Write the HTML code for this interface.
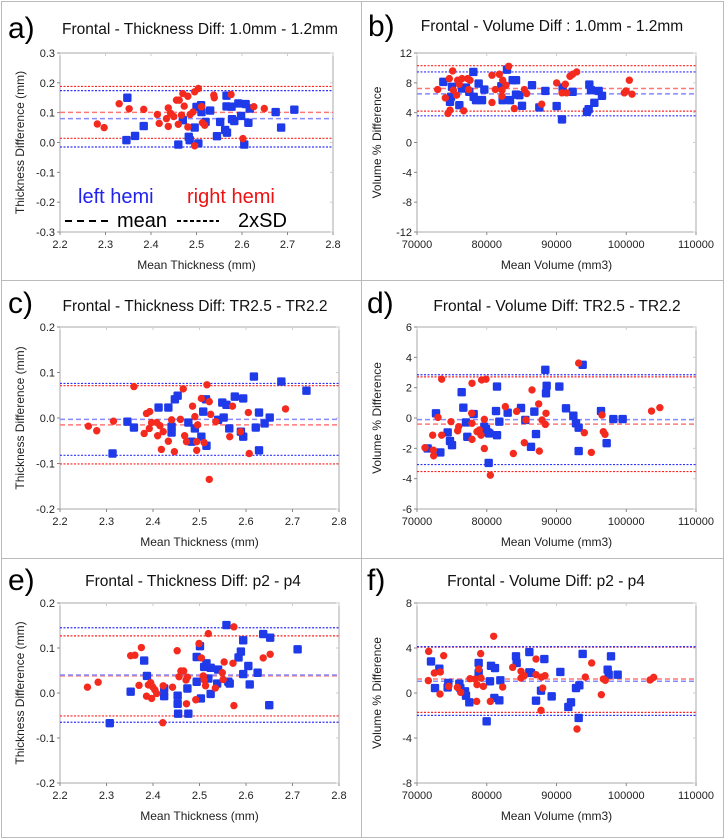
<!DOCTYPE html>
<html><head><meta charset="utf-8"><style>
body{margin:0;background:#fff;}
svg{display:block;font-family:"Liberation Sans",Arial,sans-serif;}
</style></head><body>
<svg id="fig" width="726" height="840" viewBox="0 0 726 840">
<rect x="1.5" y="1.5" width="722" height="836" fill="none" stroke="#bbb"/>
<line x1="361.5" y1="1" x2="361.5" y2="838" stroke="#bbb"/>
<line x1="1" y1="280.5" x2="724" y2="280.5" stroke="#bbb"/>
<line x1="1" y1="558.5" x2="724" y2="558.5" stroke="#bbb"/>
</svg>
<script>
// ---- Panel a ----
const aBlueX=[2.348,2.346,2.365,2.384,2.46,2.47,2.485,2.483,2.496,2.504,2.5,2.51,2.511,2.52,2.53,2.545,2.552,2.563,2.567,2.566,2.566,2.577,2.578,2.583,2.592,2.598,2.608,2.605,2.614,2.617,2.674,2.686,2.715];
const aBlueY=[0.150,0.008,0.022,0.055,-0.007,0.075,0.008,0.019,0.050,-0.003,0.119,0.125,0.102,0.069,0.107,0.021,0.069,0.042,0.033,0.157,0.121,0.12,0.078,0.072,0.131,0.089,0.129,-0.007,0.066,0.114,0.102,0.05,0.11];
const aRedX=[2.282,2.297,2.33,2.352,2.384,2.414,2.418,2.434,2.438,2.438,2.443,2.45,2.456,2.462,2.467,2.47,2.473,2.46,2.481,2.481,2.486,2.492,2.496,2.504,2.496,2.511,2.513,2.518,2.538,2.539,2.576,2.602,2.626,2.649];
const aRedY=[0.062,0.05,0.13,0.113,0.111,0.094,0.064,0.08,0.116,0.054,0.098,0.087,0.142,0.142,0.092,0.164,0.122,0.061,0.155,0.052,0.094,0.102,0.17,0.181,-0.011,0.12,0.066,0.058,0.159,0.15,0.161,0.013,0.12,0.114];
const aBlueLines=[0.174,0.080,-0.015];
const aRedLines=[0.188,0.101,0.014];
// ---- Panel b ----
const bBlueX=[73775,75018,74874,74731,76069,76452,77025,77503,78124,78076,78459,78841,79319,79654,82091,82283,82904,83334,83716,84194,84194,84672,85054,86488,87539,88399,90024,90884,90788,92317,94373,94611,94707,94946,95424,96045,96523];
const bBlueY=[8.13,7.46,6.12,5.45,5.0,7.24,7.37,6.79,6.12,9.46,5.68,7.9,5.68,7.1,7.55,5.68,9.77,5.68,8.35,8.35,6.43,6.35,4.92,7.68,4.7,6.92,4.88,7.37,3.1,6.79,4.12,4.47,7.77,7.01,5.32,6.92,6.26];
const bRedX=[72963,74062,74444,74731,74635,75113,75209,75687,75830,76069,76452,76691,77264,77599,77408,80753,80753,81231,81805,82187,82283,82187,82761,83143,83956,85389,85724,87874,90024,90788,91266,91457,91935,92317,92891,99725,100442,100825,99964];
const bRedY=[7.1,5.99,3.9,4.34,8.57,9.6,7.01,6.35,8.35,7.81,8.57,4.25,8.57,8.35,7.1,9.02,5.37,7.1,9.15,7.01,8.35,6.21,7.68,10.22,4.56,7.1,6.57,5.14,7.99,6.66,7.81,6.66,8.88,9.15,9.46,6.66,8.35,6.48,6.92];
const bBlueLines=[9.46,6.52,3.58];
const bRedLines=[10.3,7.24,4.21];
// ---- Panel c ----
const cBlueX=[2.313,2.345,2.359,2.412,2.433,2.447,2.44,2.44,2.453,2.476,2.483,2.49,2.504,2.508,2.514,2.515,2.54,2.549,2.552,2.558,2.564,2.576,2.594,2.589,2.594,2.617,2.621,2.628,2.628,2.64,2.651,2.676,2.73];
const cBlueY=[-0.078,-0.008,-0.021,0.023,0.023,0.041,-0.019,-0.032,0.049,-0.01,-0.052,-0.023,-0.041,0.014,0.041,-0.061,-0.004,0.034,0.001,0.029,-0.023,0.047,0.043,-0.03,-0.041,0.091,-0.021,0.012,-0.071,-0.012,0.001,0.08,0.06];
const cRedX=[2.261,2.279,2.315,2.359,2.381,2.386,2.393,2.392,2.397,2.408,2.41,2.415,2.418,2.422,2.433,2.44,2.446,2.459,2.465,2.468,2.472,2.485,2.49,2.494,2.494,2.496,2.504,2.51,2.516,2.521,2.521,2.524,2.535,2.565,2.571,2.588,2.605,2.607,2.685];
const cRedY=[-0.018,-0.028,-0.007,0.069,-0.034,0.01,0.014,-0.023,-0.01,-0.01,-0.039,-0.017,-0.069,-0.03,-0.051,-0.004,-0.074,-0.003,0.064,-0.039,-0.052,0.026,0.003,-0.052,-0.071,-0.015,0.043,-0.054,0.073,0.036,-0.135,0.008,-0.008,-0.041,0.026,-0.03,0.012,-0.078,0.02];
const cBlueLines=[0.076,-0.003,-0.082];
const cRedLines=[0.071,-0.015,-0.101];
// ---- Panel d ----
const dBlueX=[71529,72724,73345,74397,74731,75018,76404,76643,77025,77216,78124,79654,79893,80132,80275,80371,81470,81327,81470,81805,83000,84912,85533,86346,86823,87062,88399,88495,88590,90406,91362,92413,92796,93178,93178,93751,96380,97192,98148,99486];
const dBlueY=[-2.01,0.31,-2.27,-0.95,-1.52,-1.79,1.7,0.68,-0.29,-1.24,0.26,-0.57,-0.73,-0.95,-2.96,-1.02,2.07,0.46,-1.13,-0.24,0.35,0.66,-0.13,-1.9,0.42,-1.06,3.18,1.63,2.12,2.07,0.64,0.15,-0.35,-0.64,-2.18,3.51,0.46,-1.66,-0.07,-0.07];
const dRedX=[71147,72246,72342,72390,73011,73536,73536,74874,75973,75830,77886,77838,77886,77886,78602,78937,79176,79271,79893,79654,79654,80514,82665,83812,84290,85389,85628,86488,87444,87539,87921,88399,88495,93178,93990,94994,96523,96714,96953,103623,104818];
const dRedY=[-1.96,-1.13,-2.12,-2.49,0.04,2.56,-1.13,-0.24,-0.57,-0.84,2.29,0.31,-0.35,-1.41,-0.9,-0.79,-1.13,2.51,2.56,-0.09,-2.01,-3.77,0.75,-2.34,0.44,-1.63,-0.13,1.85,0.93,-2.18,-0.13,-0.42,0.31,3.62,-0.97,-2.27,0.2,-0.9,-1.08,0.46,0.68];
const dBlueLines=[2.85,-0.11,-3.07];
const dRedLines=[2.71,-0.4,-3.53];
// ---- Panel e ----
const eBlueX=[2.307,2.352,2.381,2.387,2.424,2.424,2.453,2.453,2.454,2.474,2.476,2.494,2.494,2.501,2.503,2.51,2.515,2.519,2.524,2.524,2.538,2.54,2.558,2.562,2.565,2.584,2.589,2.594,2.594,2.605,2.608,2.625,2.637,2.652,2.65,2.711];
const eBlueY=[-0.067,0.003,0.072,0.038,0.01,-0.007,-0.006,-0.024,-0.046,0.01,-0.046,0.025,0.08,0.104,-0.012,0.058,0.066,0.032,0.056,-0.002,0.021,0.052,0.151,0.025,0.021,0.079,0.092,0.117,0.042,0.06,0.019,0.045,0.131,0.123,-0.027,0.097];
const eRedX=[2.259,2.282,2.352,2.361,2.37,2.375,2.386,2.39,2.395,2.397,2.399,2.404,2.408,2.421,2.422,2.442,2.452,2.456,2.46,2.466,2.471,2.472,2.474,2.492,2.499,2.504,2.508,2.51,2.513,2.519,2.534,2.551,2.553,2.549,2.572,2.574,2.574,2.637,2.652];
const eRedY=[0.013,0.024,0.083,0.084,0.017,0.101,-0.007,0.018,0.023,-0.012,0.014,0.007,-0.001,-0.066,0.016,0.013,0.094,0.036,0.049,0.049,0.029,-0.024,0.035,-0.015,0.11,0.078,0.038,0.029,0.016,0.132,0.011,0.03,0.069,0.045,0.066,-0.028,0.147,0.078,0.086];
const eBlueLines=[0.145,0.040,-0.065];
const eRedLines=[0.127,0.038,-0.051];
// ---- Panel f ----
const fBlueX=[72007,72581,73202,74397,74492,76069,76213,76882,77025,77503,78841,78841,80466,79988,80610,81183,81088,81805,81948,84194,84289,86106,86106,86345,87062,87779,88256,89308,90550,91697,92079,92796,93274,93178,93751,97336,97479,97814,98770];
const fBlueY=[2.81,0.44,2.16,0.5,0.89,0.83,0.44,0.15,-0.24,-0.83,2.67,1.78,1.04,-2.52,2.42,2.22,-0.44,-0.65,1.13,3.26,2.67,3.64,1.84,1.78,-0.68,0.21,3.02,-0.3,1.87,-1.24,-0.83,0.44,0.68,-2.22,3.47,2.07,1.63,3.26,1.63];
const fRedX=[71673,71625,72485,73345,73297,73823,74540,75783,76261,77599,78315,78554,78602,78841,79128,79176,79510,80514,80992,82283,83716,84911,84911,85389,87062,87062,87779,87875,88018,88350,92939,94133,95041,96428,96714,97001,103405,103931];
const fRedY=[3.7,1.1,1.78,1.87,-0.09,3.32,0.59,0.5,0.06,1.27,1.24,-0.74,0.74,2.13,3.5,1.33,0.59,-0.74,5.04,0.53,2.28,1.93,1.33,1.54,3.02,1.63,-1.54,1.42,0.44,1.54,-3.2,1.42,2.67,-0.15,1.24,1.13,1.16,1.39];
const fBlueLines=[4.12,1.04,-1.99];
const fRedLines=[4.08,1.24,-1.72];

const thickTicksX=["2.2","2.3","2.4","2.5","2.6","2.7","2.8"];
const volTicksX=["70000","80000","90000","100000","110000"];
const aTicksY=["0.3","0.2","0.1","0.0","-0.1","-0.2","-0.3"];
const bTicksY=["12","8","4","0","-4","-8","-12"];
const cTicksY=["0.2","0.1","0.0","-0.1","-0.2"];
const dTicksY=["6","4","2","0","-2","-4","-6"];
const fTicksY=["8","4","0","-4","-8"];

const NS="http://www.w3.org/2000/svg";
const svg=document.getElementById('fig');
function mk(tag,attrs,parent){const e=document.createElementNS(NS,tag);for(const k in attrs)e.setAttribute(k,attrs[k]);(parent||svg).appendChild(e);return e;}

function panel(p){
  const g=mk('g',{});
  
  
  const xmin=+p.xt[0],xmax=+p.xt[p.xt.length-1],ymax=+p.yt[0],ymin=+p.yt[p.yt.length-1];
  const sx=v=>p.x0+(v-xmin)/(xmax-xmin)*(p.x1-p.x0);
  const sy=v=>p.y0+(ymax-v)/(ymax-ymin)*(p.y1-p.y0);
  const L=mk('text',{x:p.lx,y:p.ly,'font-size':30,fill:'#000'},g);L.textContent=p.id+')';
  
  
  const T=mk('text',{x:p.tx,y:p.ty,'font-size':15.5,'text-anchor':'middle',fill:'#111'},g);T.textContent=p.title;
  
  
  const F=mk('rect',{x:p.x0,y:p.y0,width:p.x1-p.x0,height:p.y1-p.y0,fill:'none',stroke:'#aaa','stroke-width':1},g);
  
  
  p.xt.forEach(t=>{const x=sx(+t);
    mk('line',{x1:x,y1:p.y1,x2:x,y2:p.y1+3,stroke:'#888'},g);
    mk('line',{x1:x,y1:p.y0,x2:x,y2:p.y0+3,stroke:'#ccc'},g);
    const tl=mk('text',{x:x,y:p.y1+16,'font-size':11,'text-anchor':'middle',fill:'#222'},g);tl.textContent=t;
    
    
  });
  p.yt.forEach(t=>{const y=sy(+t);
    mk('line',{x1:p.x0-3,y1:y,x2:p.x0,y2:y,stroke:'#888'},g);
    mk('line',{x1:p.x1-3,y1:y,x2:p.x1,y2:y,stroke:'#ccc'},g);
    const tl=mk('text',{x:p.x0-5,y:y+4,'font-size':11,'text-anchor':'end',fill:'#222'},g);tl.textContent=t;
    
    
  });
  const xa=mk('text',{x:(p.x0+p.x1)/2,y:p.y1+37,'font-size':12,'text-anchor':'middle',fill:'#222'},g);xa.textContent=p.xl;
  
  
  const yc=(p.y0+p.y1)/2, yx=p.x0-36;
  const ya=mk('text',{x:yx,y:yc,'font-size':12,'text-anchor':'middle',fill:'#222',transform:`rotate(-90 ${yx} ${yc})`},g);ya.textContent=p.yl;
  
  
  const lines=(vals,col,light)=>vals.forEach((v,i)=>{
    const ln=mk('line',{x1:p.x0,x2:p.x1,y1:sy(v),y2:sy(v),stroke:i==1?light:col,'stroke-width':i==1?1.5:1.2,'stroke-dasharray':i==1?'5 3':'2 1.5'},g);
    
    
  });
  lines(p.rl,'#f22','#f77');
  lines(p.bl,'#33f','#88f');
  p.bx.forEach((v,i)=>{const r=mk('rect',{x:sx(v)-4.2,y:sy(p.by[i])-4.2,width:8.4,height:8.4,fill:'#1f3ae8',rx:1.2},g);
    
    });
  p.rx.forEach((v,i)=>{const c=mk('circle',{cx:sx(v),cy:sy(p.ry[i]),r:3.7,fill:'#f52a1f'},g);
    
    });
}
const TX="Mean Thickness (mm)",TY="Thickness Difference (mm)",VX="Mean Volume (mm3)",VY="Volume % Difference";
panel({id:'a',lx:8,ly:38,tx:200,ty:34,title:'Frontal - Thickness Diff: 1.0mm - 1.2mm',x0:60,x1:333,y0:53,y1:232,xt:thickTicksX,yt:aTicksY,xl:TX,yl:TY,bx:aBlueX,by:aBlueY,rx:aRedX,ry:aRedY,bl:aBlueLines,rl:aRedLines});
panel({id:'b',lx:368,ly:36,tx:552,ty:31,title:'Frontal - Volume Diff : 1.0mm - 1.2mm',x0:417,x1:696,y0:53,y1:232,xt:volTicksX,yt:bTicksY,xl:VX,yl:VY,bx:bBlueX,by:bBlueY,rx:bRedX,ry:bRedY,bl:bBlueLines,rl:bRedLines});
panel({id:'c',lx:8,ly:313,tx:195,ty:311,title:'Frontal - Thickness Diff: TR2.5 - TR2.2',x0:60,x1:339,y0:327,y1:509,xt:thickTicksX,yt:cTicksY,xl:TX,yl:TY,bx:cBlueX,by:cBlueY,rx:cRedX,ry:cRedY,bl:cBlueLines,rl:cRedLines});
panel({id:'d',lx:367,ly:313,tx:557,ty:311,title:'Frontal - Volume Diff: TR2.5 - TR2.2',x0:417,x1:696,y0:327,y1:509,xt:volTicksX,yt:dTicksY,xl:VX,yl:VY,bx:dBlueX,by:dBlueY,rx:dRedX,ry:dRedY,bl:dBlueLines,rl:dRedLines});
panel({id:'e',lx:8,ly:590,tx:193,ty:586,title:'Frontal - Thickness Diff: p2 - p4',x0:60,x1:339,y0:603,y1:783,xt:thickTicksX,yt:cTicksY,xl:TX,yl:TY,bx:eBlueX,by:eBlueY,rx:eRedX,ry:eRedY,bl:eBlueLines,rl:eRedLines});
panel({id:'f',lx:367,ly:590,tx:546,ty:586,title:'Frontal - Volume Diff: p2 - p4',x0:417,x1:696,y0:603,y1:783,xt:volTicksX,yt:fTicksY,xl:VX,yl:VY,bx:fBlueX,by:fBlueY,rx:fRedX,ry:fRedY,bl:fBlueLines,rl:fRedLines});

const lg=mk('g',{});


const l1=mk('text',{x:78,y:203,'font-size':20,fill:'#2222ee'},lg);l1.textContent='left hemi';


const l2=mk('text',{x:187,y:203,'font-size':20,fill:'#ee1111'},lg);l2.textContent='right hemi';


const d1=mk('line',{x1:65,x2:110,y1:221,y2:221,stroke:'#000','stroke-width':2,'stroke-dasharray':'7 5'},lg);


const l3=mk('text',{x:117,y:227,'font-size':20,fill:'#000'},lg);l3.textContent='mean';


const d2=mk('line',{x1:177,x2:219,y1:221,y2:221,stroke:'#000','stroke-width':2,'stroke-dasharray':'4 2.5'},lg);


const l4=mk('text',{x:238,y:227,'font-size':20,fill:'#000'},lg);l4.textContent='2xSD';


</script>
</body></html>
